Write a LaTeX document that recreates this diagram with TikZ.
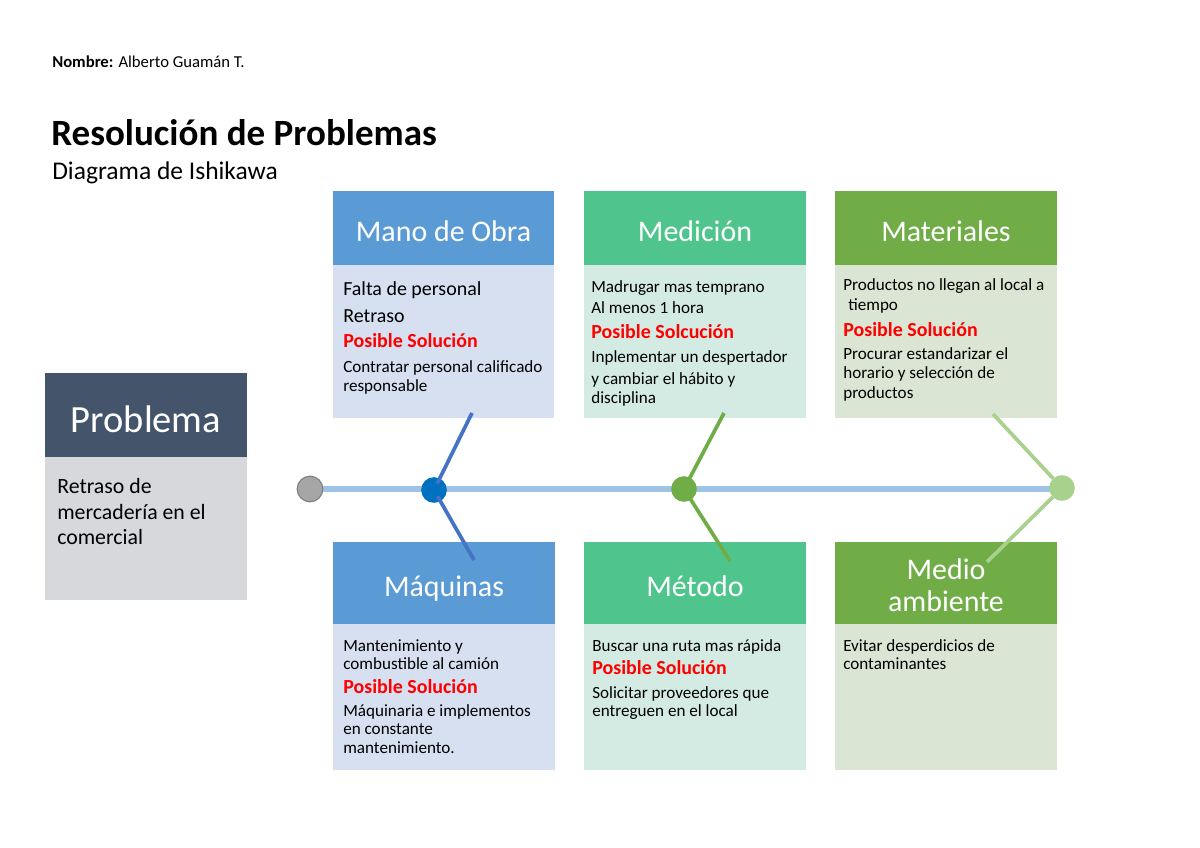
\documentclass[tikz,border=0pt]{standalone}
\usepackage{fontspec}
\setmainfont{Carlito}
\usetikzlibrary{backgrounds}
\definecolor{probhd}{HTML}{44546A}
\definecolor{probbd}{HTML}{D6D8DB}
\definecolor{bluehd}{HTML}{5B9BD5}
\definecolor{bluebd}{HTML}{D6E0F1}
\definecolor{minthd}{HTML}{4FC58D}
\definecolor{mintbd}{HTML}{D4EBE3}
\definecolor{greenhd}{HTML}{70AD47}
\definecolor{greenbd}{HTML}{DAE5D4}
\definecolor{spinec}{HTML}{9DC3E6}
\definecolor{bline}{HTML}{4472C4}
\definecolor{bdot}{HTML}{0070C0}
\definecolor{lgreen}{HTML}{A9D18E}
\definecolor{solred}{HTML}{FF0000}
\begin{document}
\begin{tikzpicture}[x=0.7017pt,y=-0.7017pt,
  hdr/.style={anchor=base, text=white, inner sep=0pt, font=\fontsize{21}{21}\selectfont},
  tx/.style={anchor=base west, inner sep=0pt, font=\fontsize{12}{14}\selectfont},
  txb/.style={anchor=base west, inner sep=0pt, font=\fontsize{14}{16}\selectfont},
  sol/.style={anchor=base west, inner sep=0pt, text=solred, font=\fontsize{14}{16}\selectfont\bfseries},
  prb/.style={anchor=base west, inner sep=0pt, font=\fontsize{15.3}{18}\selectfont},
  dot/.style={circle, inner sep=0pt, minimum size=18pt},
  branch/.style={line width=2.6pt, shorten <=5pt}]
\useasboundingbox (0,0) rectangle (1200,848);

% heading
\node[anchor=base west, inner sep=0pt, font=\fontsize{11.7}{14}\selectfont] (nombre) at (52,68) {\textbf{Nombre:} Alberto Guamán T.};
\node[anchor=base west, inner sep=0pt, font=\fontsize{26}{30}\selectfont\bfseries] (title) at (51,146) {Resolución de Problemas};
\node[anchor=base west, inner sep=0pt, font=\fontsize{17.9}{20}\selectfont] (sub) at (52,180) {Diagrama de Ishikawa};

% boxes
\fill[probhd] (45,373) rectangle (247,457);
\fill[probbd] (45,457) rectangle (247,600);
\fill[bluehd] (333,191) rectangle (554,265);
\fill[bluebd] (333,265) rectangle (554,418);
\fill[minthd] (584,191) rectangle (806,265);
\fill[mintbd] (584,265) rectangle (806,418);
\fill[greenhd] (835,191) rectangle (1057,265);
\fill[greenbd] (835,265) rectangle (1057,418);
\fill[bluehd] (333,542) rectangle (555,624);
\fill[bluebd] (333,624) rectangle (555,770);
\fill[minthd] (584,542) rectangle (806,624);
\fill[mintbd] (584,624) rectangle (806,770);
\fill[greenhd] (835,542) rectangle (1057,624);
\fill[greenbd] (835,624) rectangle (1057,770);

% headers
\node[hdr, font=\fontsize{27}{27}\selectfont] (hprob) at (146,433) {Problema};
\node[hdr] (hmano) at (443.5,242) {Mano de Obra};
\node[hdr] (hmed) at (695,242) {Medición};
\node[hdr] (hmat) at (946,242) {Materiales};
\node[hdr] (hmaq) at (444,596) {Máquinas};
\node[hdr] (hmet) at (695,596) {Método};
\node[hdr] (hmed1) at (946,579) {Medio};
\node[hdr] (hmed2) at (946,611) {ambiente};

% problem body
\node[prb] (p1) at (57,493) {Retraso de};
\node[prb] (p2) at (57,519) {mercadería en el};
\node[prb] (p3) at (57,544) {comercial};

% Mano de Obra
\node[txb] (a1) at (343,296) {Falta de personal};
\node[txb] (a2) at (343,323) {Retraso};
\node[sol] (a3) at (343,348) {Posible Solución};
\node[tx] (a4) at (343,373) {Contratar personal calificado};
\node[tx] (a5) at (343,391) {responsable};

% Medicion
\node[tx] (b1) at (591,293) {Madrugar mas temprano};
\node[tx] (b2) at (591,314) {Al menos 1 hora};
\node[sol] (b3) at (591,339) {Posible Solcución};
\node[tx] (b4) at (591,363) {Inplementar un despertador};
\node[tx] (b5) at (591,384) {y cambiar el hábito y};
\node[tx] (b6) at (591,403) {disciplina};

% Materiales
\node[tx] (c1) at (843,291) {Productos no llegan al local a};
\node[tx] (c2) at (848,311) {tiempo};
\node[sol] (c3) at (843,337) {Posible Solución};
\node[tx] (c4) at (843,359) {Procurar estandarizar el};
\node[tx] (c5) at (843,379) {horario y selección de};
\node[tx] (c6) at (843,399) {productos};

% Maquinas
\node[tx] (d1) at (343,651) {Mantenimiento y};
\node[tx] (d2) at (343,669) {combustible al camión};
\node[sol] (d3) at (343,693) {Posible Solución};
\node[tx] (d4) at (343,716) {Máquinaria e implementos};
\node[tx] (d5) at (343,734) {en constante};
\node[tx] (d6) at (343,753) {mantenimiento.};

% Metodo
\node[tx] (e1) at (592,651) {Buscar una ruta mas rápida};
\node[sol] (e2) at (592,674) {Posible Solución};
\node[tx] (e3) at (592,698) {Solicitar proveedores que};
\node[tx] (e4) at (592,716) {entreguen en el local};

% Medio ambiente
\node[tx] (f1) at (843,651) {Evitar desperdicios de};
\node[tx] (f2) at (843,669) {contaminantes};

% spine and dots
\node[dot, fill=gray!70, draw=gray, line width=0.8pt] (g0) at (310,489) {};
\node[dot, fill=bdot] (g1) at (434,490) {};
\node[dot, fill=greenhd] (g2) at (684,489) {};
\node[dot, fill=lgreen] (g3) at (1062,488) {};
\begin{scope}[on background layer]
\draw[spinec, line width=3.6pt] (g0.center) -- (g0.center -| g3.center);
\end{scope}
\coordinate (t1) at (472,413);
\coordinate (u1) at (474,560);
\coordinate (t2) at (724,413);
\coordinate (u2) at (730,561);
\coordinate (t3) at (993,414);
\coordinate (u3) at (987,562);
\draw[branch, bline] (g1.center) -- (t1);
\draw[branch, bline] (g1.center) -- (u1);
\draw[branch, greenhd] (g2.center) -- (t2);
\draw[branch, greenhd] (g2.center) -- (u2);
\draw[branch, lgreen, shorten <=9pt] (g3.center) -- (t3);
\draw[branch, lgreen, shorten <=9pt] (g3.center) -- (u3);
\end{tikzpicture}
\end{document}
